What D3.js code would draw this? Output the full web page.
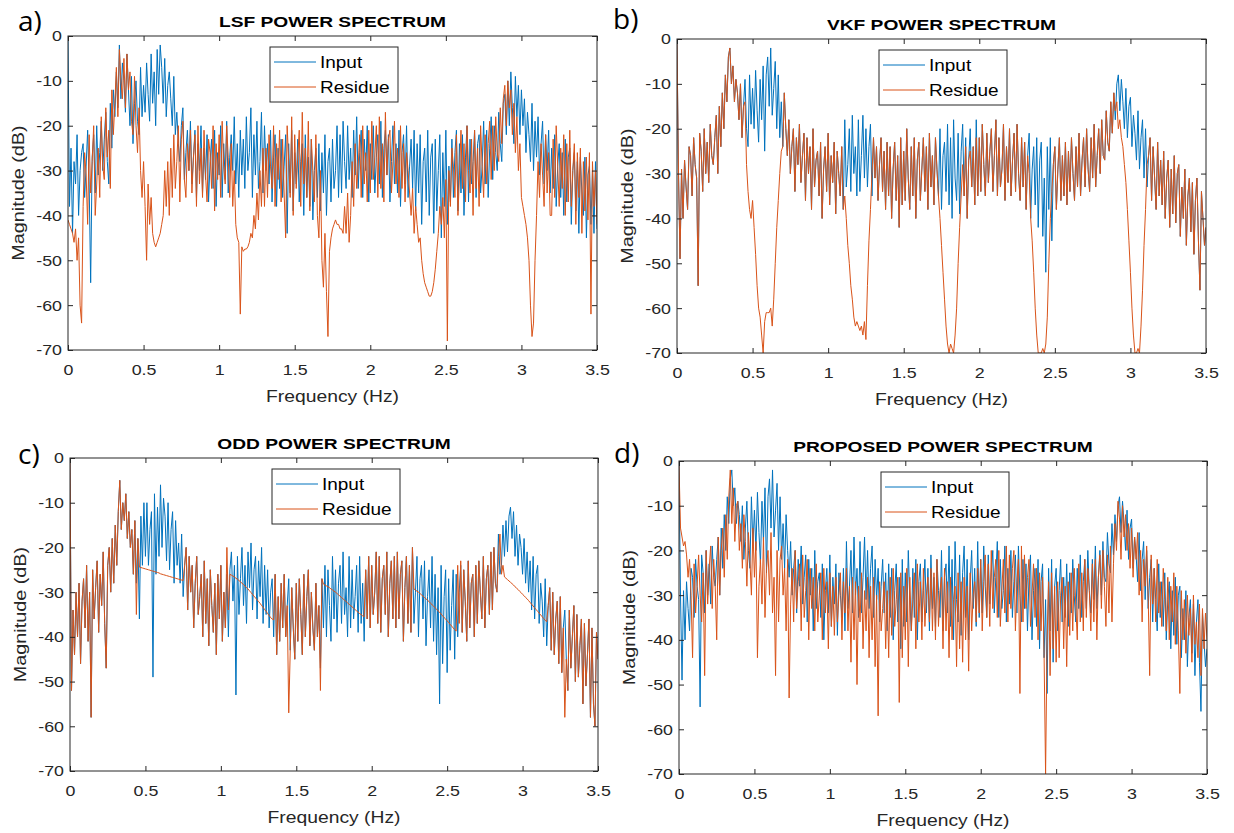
<!DOCTYPE html>
<html>
<head>
<meta charset="utf-8">
<script src="https://cdn.jsdelivr.net/npm/d3@7"></script>
<style>
  body { margin: 0; background: #fff; }
  svg { display: block; }
</style>
</head>
<body>
<svg width="1234" height="833"></svg>
<script>
// frequency grid: 0 .. 3.5 Hz every 0.01 Hz (351 points), one row below = 0.1 Hz
const freq = d3.range(351).map(i => i / 100);

const xTicks = [0, 0.5, 1, 1.5, 2, 2.5, 3, 3.5];
const yTicks = [-70, -60, -50, -40, -30, -20, -10, 0];

// a) LSF
const inputA = [
  -1,-38,-25,-44,-28,-33,-22,-40,-30,-26,
  -24,-36,-29,-21,-33,-55,-27,-22,-35,-20,
  -31,-26,-19,-30,-23,-17,-28,-33,-15,-25,
  -12,-18,-8,-16,-2,-14,-6,-10,-17,-4,
  -12,-20,-9,-24,-15,-10,-19,-22,-7,-18,
  -11,-17,-6,-13,-19,-4,-15,-8,-20,-3,
  -13,-2,-7,-15,-5,-18,-11,-8,-14,-20,
  -9,-22,-17,-24,-28,-20,-16,-32,-26,-21,
  -30,-19,-33,-27,-21,-36,-24,-30,-20,-35,
  -25,-32,-22,-37,-28,-23,-34,-21,-38,-26,
  -31,-20,-36,-24,-32,-19,-35,-27,-22,-30,
  -18,-33,-24,-36,-21,-31,-23,-34,-18,-30,
  -26,-16,-36,-22,-31,-19,-34,-28,-17,-35,
  -20,-30,-24,-33,-21,-37,-27,-22,-38,-25,
  -34,-23,-36,-29,-22,-44,-24,-35,-21,-39,
  -26,-33,-23,-37,-28,-24,-40,-22,-36,-27,
  -38,-23,-41,-30,-25,-36,-24,-39,-26,-35,
  -22,-40,-28,-25,-37,-23,-34,-30,-20,-36,
  -22,-35,-19,-28,-34,-20,-32,-25,-36,-21,
  -31,-18,-34,-26,-21,-36,-23,-30,-20,-37,
  -24,-32,-20,-35,-27,-22,-33,-19,-36,-25,
  -21,-31,-22,-37,-28,-20,-33,-24,-35,-21,
  -38,-26,-22,-33,-20,-36,-29,-23,-34,-21,
  -39,-24,-35,-22,-42,-28,-25,-37,-21,-40,
  -27,-24,-44,-23,-39,-30,-22,-45,-26,-38,
  -21,-42,-29,-37,-23,-36,-26,-21,-39,-24,
  -35,-22,-40,-27,-20,-37,-23,-33,-28,-21,
  -36,-24,-22,-35,-29,-19,-33,-21,-36,-25,
  -18,-32,-20,-26,-30,-17,-24,-28,-15,-13,
  -22,-10,-20,-8,-16,-24,-9,-18,-11,-22,
  -12,-20,-14,-26,-17,-22,-28,-15,-30,-19,
  -27,-18,-31,-24,-19,-33,-22,-30,-21,-35,
  -25,-34,-22,-38,-29,-24,-36,-26,-40,-23,
  -37,-27,-25,-42,-30,-26,-39,-28,-44,-27,
  -35,-40,-27,-45,-31,-29,-42,-30,-44,-28,
  -43
];
const residueA = [
  -41,-42,-43,-44,-46,-43,-50,-45,-60,-64,
  -38,-26,-31,-42,-22,-35,-28,-20,-40,-33,
  -25,-36,-18,-29,-32,-16,-27,-21,-34,-12,
  -22,-15,-7,-18,-3,-10,-14,-5,-16,-4,
  -12,-8,-19,-22,-9,-20,-26,-16,-30,-36,
  -28,-38,-50,-33,-42,-36,-44,-46,-47,-46,
  -45,-44,-42,-40,-30,-38,-28,-40,-25,-36,
  -22,-34,-28,-20,-37,-23,-19,-32,-36,-24,
  -30,-21,-35,-27,-22,-38,-20,-33,-25,-36,
  -21,-31,-37,-23,-26,-34,-20,-39,-24,-32,
  -22,-36,-19,-29,-33,-20,-27,-36,-24,-38,
  -30,-42,-45,-46,-62,-47,-48,-47.5,-47.5,-47,
  -46,-44,-45,-40,-43,-35,-41,-30,-38,-25,
  -38,-25,-36,-22,-29,-34,-20,-38,-24,-32,
  -21,-37,-23,-35,-45,-20,-28,-36,-18,-40,
  -22,-34,-27,-21,-38,-17,-33,-25,-36,-19,
  -39,-23,-30,-37,-22,-40,-45,-30,-50,-56,
  -44,-57,-67,-48,-45,-43,-42,-41,-42,-42,
  -43,-43,-44,-38,-44,-35,-46,-40,-28,-38,
  -24,-34,-29,-22,-36,-20,-33,-26,-37,-21,
  -35,-19,-32,-27,-20,-36,-18,-34,-24,-37,
  -17,-31,-23,-21,-35,-28,-19,-33,-25,-36,
  -20,-34,-24,-37,-26,-30,-35,-40,-34,-44,
  -38,-42,-46,-45,-50,-53,-55,-56,-57,-58,
  -58,-57,-55,-52,-48,-44,-38,-42,-36,-45,
  -32,-68,-30,-38,-25,-29,-36,-22,-40,-31,
  -21,-34,-24,-37,-20,-30,-35,-23,-40,-21,
  -34,-25,-38,-20,-29,-36,-22,-33,-24,-19,
  -32,-20,-30,-18,-26,-28,-16,-24,-14,-11,
  -20,-10,-16,-12,-22,-15,-26,-18,-30,-24,
  -36,-38,-40,-42,-45,-50,-60,-67,-64,-50,
  -40,-28,-36,-24,-31,-38,-22,-35,-26,-40,
  -40,-23,-36,-20,-29,-38,-25,-34,-22,-40,
  -24,-37,-21,-38,-30,-24,-42,-26,-36,-25,
  -44,-28,-39,-27,-41,-26,-62,-28,-38,-30,
  -42
];

// b) VKF and d) proposed share the same input spectrum
const inputB = [
  -1,-30,-49,-29,-40,-27,-33,-38,-24,-26,
  -35,-22,-28,-31,-55,-21,-25,-34,-20,-30,
  -23,-32,-19,-26,-28,-22,-17,-30,-15,-24,
  -12,-20,-8,-14,-4,-2,-10,-6,-14,-9,
  -12,-18,-10,-22,-15,-9,-20,-24,-8,-19,
  -11,-20,-7,-16,-23,-9,-18,-6,-25,-8,
  -4,-15,-2,-17,-11,-5,-20,-8,-22,-14,
  -24,-12,-20,-26,-18,-30,-24,-20,-34,-22,
  -28,-19,-32,-26,-21,-36,-22,-30,-24,-38,
  -20,-33,-27,-25,-35,-23,-40,-29,-24,-34,
  -21,-37,-26,-32,-23,-39,-25,-30,-35,-24,
  -38,-18,-33,-28,-20,-34,-17,-30,-24,-35,
  -18,-34,-26,-17,-31,-20,-33,-24,-19,-35,
  -22,-31,-24,-36,-28,-22,-34,-25,-38,-23,
  -35,-24,-40,-29,-23,-36,-26,-42,-22,-37,
  -25,-36,-20,-31,-38,-24,-35,-22,-40,-27,
  -23,-36,-29,-22,-34,-24,-38,-21,-33,-26,
  -37,-22,-29,-35,-20,-38,-26,-23,-34,-19,
  -37,-22,-40,-18,-31,-36,-21,-39,-25,-19,
  -35,-22,-40,-27,-20,-33,-24,-37,-18,-35,
  -22,-34,-19,-28,-35,-21,-32,-25,-20,-34,
  -26,-18,-35,-22,-33,-29,-19,-36,-24,-32,
  -20,-35,-27,-21,-34,-19,-30,-36,-22,-33,
  -23,-38,-26,-21,-40,-29,-24,-37,-22,-42,
  -27,-23,-44,-31,-52,-24,-38,-22,-45,-28,
  -24,-38,-29,-22,-36,-26,-35,-23,-37,-25,
  -34,-22,-30,-36,-24,-33,-21,-35,-27,-22,
  -33,-20,-29,-34,-22,-31,-19,-33,-26,-20,
  -30,-18,-26,-27,-16,-23,-25,-14,-21,-12,
  -18,-10,-8,-16,-9,-14,-20,-11,-22,-15,
  -13,-24,-17,-21,-27,-16,-29,-22,-18,-31,
  -20,-33,-26,-22,-36,-24,-31,-38,-23,-35,
  -27,-37,-25,-40,-31,-27,-42,-29,-39,-26,
  -41,-30,-28,-44,-33,-40,-29,-46,-35,-31,
  -43,-32,-48,-36,-31,-45,-56,-34,-40,-46,
  -42
];
const residueB = [
  -1,-30,-49,-29,-40,-27,-33,-38,-24,-26,
  -35,-22,-28,-31,-55,-21,-25,-34,-20,-30,
  -23,-32,-19,-26,-28,-22,-17,-30,-15,-24,
  -12,-20,-8,-14,-4,-2,-10,-6,-14,-9,
  -12,-18,-10,-22,-15,-14,-28,-34,-38,-40,
  -36,-42,-48,-55,-60,-62,-66,-70,-63,-61,
  -61,-61,-60,-64,-58,-50,-42,-36,-30,-25,
  -24,-12,-20,-26,-18,-30,-24,-20,-34,-22,
  -28,-19,-32,-26,-21,-36,-22,-30,-24,-38,
  -20,-33,-27,-25,-35,-23,-40,-29,-24,-34,
  -21,-37,-26,-32,-23,-39,-25,-30,-35,-24,
  -38,-35,-40,-46,-50,-55,-58,-62,-64,-63,
  -64,-65,-64,-66,-63,-67,-55,-45,-38,-30,
  -22,-31,-24,-36,-28,-22,-34,-25,-38,-23,
  -35,-24,-40,-29,-23,-36,-26,-42,-22,-37,
  -25,-36,-20,-31,-38,-24,-35,-22,-40,-27,
  -23,-36,-29,-22,-34,-24,-38,-21,-33,-26,
  -37,-22,-29,-35,-40,-46,-52,-58,-64,-68,
  -70,-68,-69,-70,-66,-60,-50,-42,-35,-28,
  -35,-24,-40,-27,-25,-33,-24,-37,-22,-35,
  -22,-34,-19,-28,-35,-21,-32,-25,-20,-34,
  -26,-18,-35,-22,-33,-29,-19,-36,-24,-32,
  -20,-35,-27,-21,-34,-19,-30,-36,-22,-33,
  -23,-38,-26,-30,-40,-45,-52,-60,-66,-70,
  -70,-70,-69,-70,-68,-62,-50,-40,-34,-28,
  -24,-38,-29,-22,-36,-26,-35,-23,-37,-25,
  -34,-22,-30,-36,-24,-33,-21,-35,-27,-22,
  -33,-20,-29,-34,-22,-31,-19,-33,-26,-20,
  -30,-18,-26,-27,-16,-23,-25,-14,-21,-12,
  -16,-14,-20,-18,-22,-24,-28,-32,-38,-45,
  -52,-60,-66,-70,-70,-69,-70,-64,-56,-46,
  -38,-28,-26,-22,-36,-24,-31,-38,-23,-35,
  -27,-37,-25,-40,-31,-27,-42,-29,-39,-26,
  -41,-30,-28,-44,-33,-40,-29,-46,-35,-31,
  -43,-32,-48,-36,-31,-45,-56,-34,-40,-46,
  -42
];

// c) ODD
const inputC = [
  -1,-52,-34,-44,-30,-40,-28,-46,-32,-27,
  -38,-24,-41,-30,-58,-25,-36,-29,-23,-39,
  -26,-33,-21,-37,-47,-24,-20,-30,-18,-28,
  -15,-24,-12,-5,-16,-10,-14,-8,-18,-12,
  -20,-16,-26,-14,-28,-18,-36,-13,-24,-10,
  -22,-10,-24,-16,-12,-49,-8,-26,-11,-22,
  -6,-20,-9,-13,-23,-10,-25,-16,-12,-28,
  -14,-24,-19,-28,-17,-31,-24,-20,-34,-22,
  -30,-24,-38,-28,-22,-35,-31,-26,-40,-23,
  -37,-27,-42,-25,-33,-39,-28,-44,-26,-36,
  -24,-41,-30,-38,-26,-40,-25,-21,-32,-24,
  -53,-22,-35,-27,-20,-33,-24,-37,-21,-29,
  -19,-34,-25,-22,-36,-23,-31,-20,-37,-24,
  -35,-25,-38,-30,-27,-40,-26,-44,-31,-41,
  -28,-38,-26,-40,-33,-27,-43,-29,-38,-45,
  -28,-41,-27,-35,-44,-26,-40,-31,-25,-42,
  -30,-38,-43,-28,-40,-33,-47,-27,-38,-24,
  -40,-25,-33,-41,-22,-36,-25,-39,-28,-24,
  -37,-21,-35,-29,-40,-22,-38,-25,-36,-31,
  -24,-39,-22,-37,-28,-41,-25,-36,-22,-38,
  -24,-35,-30,-21,-37,-22,-39,-27,-24,-35,
  -21,-40,-28,-23,-36,-22,-38,-21,-36,-26,
  -23,-41,-29,-22,-37,-24,-39,-20,-37,-30,
  -22,-40,-27,-24,-36,-23,-42,-31,-25,-38,
  -22,-41,-26,-44,-29,-55,-24,-46,-31,-25,
  -48,-27,-43,-33,-25,-45,-26,-40,-30,-24,
  -39,-25,-32,-41,-23,-38,-28,-26,-40,-24,
  -37,-23,-30,-36,-22,-38,-27,-24,-35,-21,
  -34,-20,-28,-30,-17,-26,-24,-15,-22,-14,
  -21,-13,-11,-18,-12,-22,-15,-24,-17,-20,
  -26,-18,-28,-21,-30,-23,-34,-22,-36,-26,
  -24,-37,-28,-32,-40,-27,-42,-33,-29,-43,
  -30,-44,-36,-32,-46,-31,-48,-38,-34,-45,
  -52,-34,-47,-40,-33,-50,-35,-49,-42,-36,
  -55,-37,-51,-44,-36,-58,-38,-55,-60,-39,
  -45
];
const residueC = [
  -1,-52,-34,-44,-30,-40,-28,-46,-32,-27,
  -38,-24,-41,-30,-58,-25,-36,-29,-23,-39,
  -26,-33,-21,-37,-47,-24,-20,-30,-18,-28,
  -15,-24,-12,-5,-16,-10,-14,-8,-18,-12,
  -20,-16,-26,-14,-35,-18,-24.4,-24.5,-24.6,-24.7,
  -24.8,-24.9,-25.0,-25.1,-25.2,-25.3,-25.4,-25.5,-25.6,-25.7,
  -25.9,-26.0,-26.1,-26.2,-26.3,-26.4,-26.5,-26.6,-26.7,-26.8,
  -26.9,-27.0,-27.1,-27.2,-27.3,-27.4,-24,-20,-34,-22,
  -30,-24,-38,-28,-22,-35,-31,-26,-40,-23,
  -37,-27,-42,-25,-33,-39,-28,-44,-26,-36,
  -24,-41,-30,-38,-20,-34,-26.0,-26.2,-26.4,-26.6,
  -26.9,-27.1,-27.4,-27.7,-28.0,-28.3,-28.6,-29.0,-29.3,-29.7,
  -30.1,-30.5,-30.9,-31.3,-31.7,-32.1,-32.5,-33.0,-33.4,-33.9,
  -34.3,-34.8,-35.2,-35.7,-36.0,-36.2,-26,-44,-31,-41,
  -28,-38,-26,-40,-33,-57,-43,-29,-38,-45,
  -28,-41,-27,-35,-44,-26,-40,-31,-25,-42,
  -30,-38,-43,-28,-40,-33,-52,-27,-28.2,-28.4,
  -28.6,-28.8,-29.0,-29.3,-29.5,-29.8,-30.0,-30.3,-30.6,-30.9,
  -31.2,-31.5,-31.8,-32.1,-32.4,-32.7,-33.0,-33.3,-33.6,-33.9,
  -34.2,-34.5,-34.8,-35.0,-35.3,-35.5,-25,-36,-22,-38,
  -24,-35,-30,-21,-37,-22,-39,-27,-24,-35,
  -21,-40,-28,-23,-36,-22,-38,-21,-36,-26,
  -23,-41,-29,-22,-37,-24,-39,-20,-29.3,-29.5,
  -29.8,-30.0,-30.3,-30.6,-30.9,-31.2,-31.5,-31.8,-32.1,-32.5,
  -32.8,-33.1,-33.5,-33.8,-34.2,-34.5,-34.9,-35.3,-35.7,-36.0,
  -36.4,-36.8,-37.2,-37.6,-38.0,-38.4,-38.7,-24,-37,-23,
  -39,-25,-32,-41,-23,-38,-28,-26,-40,-24,
  -37,-23,-30,-36,-22,-38,-27,-24,-35,-21,
  -34,-20,-28,-30,-22,-17,-26,-24,-26.6,-26.9,
  -27.2,-27.5,-27.8,-28.1,-28.4,-28.8,-29.1,-29.4,-29.8,-30.1,
  -30.5,-30.8,-31.2,-31.5,-31.9,-32.3,-32.7,-33.1,-33.5,-33.9,
  -34.3,-34.7,-35.1,-35.5,-35.9,-36.3,-36.6,-33,-29,-43,
  -30,-44,-36,-32,-46,-31,-48,-38,-58,-45,
  -52,-34,-47,-40,-33,-50,-35,-49,-42,-36,
  -55,-37,-51,-44,-36,-58,-38,-55,-60,-39,
  -45
];

// d) proposed
const residueD = [
  -1,-15,-17,-19,-18,-21,-26,-22,-30,-44,
  -23,-34,-28,-21,-30,-36,-25,-48,-20,-32,
  -24,-19,-33,-22,-28,-40,-17,-30,-20,-15,
  -26,-12,-22,-8,-2,-14,-6,-18,-10,-9,
  -20,-14,-24,-12,-18,-28,-16,-22,-30,-15,
  -26,-18,-44,-28,-22,-32,-17,-35,-24,-20,
  -30,-16,-34,-26,-48,-20,-36,-22,-19,-30,
  -24,-38,-22,-53,-32,-24,-36,-20,-33,-27,
  -23,-38,-21,-35,-29,-22,-40,-24,-33,-26,
  -38,-23,-36,-30,-25,-40,-24,-34,-27,-42,
  -25,-37,-28,-39,-26,-36,-30,-25,-40,-27,
  -34,-24,-38,-28,-45,-26,-40,-27,-50,-28,
  -36,-25,-42,-29,-38,-26,-44,-28,-40,-26,
  -46,-30,-57,-27,-38,-33,-27,-42,-29,-44,
  -26,-39,-24,-37,-31,-26,-54,-25,-44,-28,
  -40,-24,-46,-26,-38,-31,-25,-42,-23,-36,
  -27,-40,-24,-37,-30,-26,-36,-24,-38,-25,
  -40,-22,-37,-29,-26,-42,-24,-38,-27,-44,
  -26,-40,-31,-28,-46,-25,-42,-27,-45,-26,
  -40,-28,-47,-25,-38,-30,-27,-36,-24,-34,
  -22,-38,-27,-21,-35,-23,-37,-20,-33,-26,
  -22,-35,-20,-37,-29,-22,-34,-19,-36,-21,
  -33,-24,-20,-38,-27,-22,-52,-19,-36,-21,
  -33,-26,-22,-37,-30,-23,-35,-24,-40,-25,
  -38,-26,-43,-70,-40,-27,-48,-25,-42,-28,
  -45,-27,-44,-30,-26,-42,-28,-46,-27,-39,
  -25,-38,-24,-32,-40,-23,-36,-25,-38,-22,
  -35,-24,-29,-38,-23,-36,-22,-40,-26,-21,
  -33,-20,-28,-37,-21,-34,-19,-36,-23,-14,
  -20,-9,-13,-22,-10,-17,-12,-20,-14,-24,
  -15,-26,-17,-22,-16,-30,-20,-36,-22,-28,
  -19,-30,-48,-21,-32,-24,-36,-22,-34,-27,
  -37,-24,-31,-38,-26,-40,-28,-36,-25,-41,
  -28,-38,-52,-29,-40,-31,-43,-30,-39,-33,
  -45,-30,-41,-36,-44,-32,-48,-33,-42,-34,
  -40
];

const blue = "#0072BD";
const orange = "#D95319";
const ink = "#262626";
const font = "'Liberation Sans', Arial, Helvetica, sans-serif";

const panels = [
  { tag: "a)", title: "LSF POWER SPECTRUM", input: inputA, residue: residueA,
    left: 68, top: 36, w: 529, h: 314, tagX: 18, tagY: 31 },
  { tag: "b)", title: "VKF POWER SPECTRUM", input: inputB, residue: residueB,
    left: 677, top: 39, w: 529, h: 314, tagX: 613, tagY: 29 },
  { tag: "c)", title: "ODD POWER SPECTRUM", input: inputC, residue: residueC,
    left: 70, top: 458, w: 528, h: 313, tagX: 18, tagY: 464 },
  { tag: "d)", title: "PROPOSED POWER SPECTRUM", input: inputB, residue: residueD,
    left: 679, top: 461, w: 528, h: 313, tagX: 614, tagY: 463 }
];

const svg = d3.select("svg");

panels.forEach((p, k) => {
  const g = svg.append("g").attr("transform", `translate(${p.left},${p.top})`);

  const x = d3.scaleLinear().domain([0, 3.5]).range([0, p.w]);
  const y = d3.scaleLinear().domain([-70, 0]).range([p.h, 0]);

  //clip so the notches stop at -70
  g.append("clipPath").attr("id", "clip" + k)
    .append("rect").attr("width", p.w).attr("height", p.h);

  const line = d3.line()
    .x((d, i) => x(freq[i]))
    .y(d => y(d));

  const plot = g.append("g").attr("clip-path", `url(#clip${k})`);
  plot.append("path").datum(p.input)
    .attr("d", line).attr("fill", "none")
    .attr("stroke", blue).attr("stroke-width", 1);
  plot.append("path").datum(p.residue)
    .attr("d", line).attr("fill", "none")
    .attr("stroke", orange).attr("stroke-width", 1);

  //axes, ticks pointing inwards like matlab
  const xb = g.append("g").attr("transform", `translate(0,${p.h})`)
    .call(d3.axisBottom(x).tickValues(xTicks).tickFormat(d => String(d))
      .tickSizeInner(-5).tickSizeOuter(0));
  xb.selectAll(".tick text").attr("y", 0)
    .attr("transform", "translate(0,14) scale(1.15,1)");

  g.append("g")
    .call(d3.axisTop(x).tickValues(xTicks).tickFormat("")
      .tickSizeInner(-5).tickSizeOuter(0));

  const yl = g.append("g")
    .call(d3.axisLeft(y).tickValues(yTicks).tickFormat(d => String(d))
      .tickSizeInner(-5).tickSizeOuter(0));
  yl.selectAll(".tick text").attr("x", 0)
    .attr("transform", "translate(-6,0) scale(1.15,1)");

  g.append("g").attr("transform", `translate(${p.w},0)`)
    .call(d3.axisRight(y).tickValues(yTicks).tickFormat("")
      .tickSizeInner(-5).tickSizeOuter(0));

  g.selectAll(".domain").remove();
  g.selectAll(".tick line").attr("stroke", ink);
  g.selectAll(".tick text").attr("fill", ink)
    .attr("font-family", font).attr("font-size", "15.5px");

  g.append("rect")
    .attr("width", p.w).attr("height", p.h)
    .attr("fill", "none").attr("stroke", ink).attr("stroke-width", 1);

  //labels
  g.append("text")
    .attr("transform", `translate(${p.w / 2},${p.h + 52}) scale(1.17,1)`)
    .attr("text-anchor", "middle")
    .attr("font-family", font).attr("font-size", "16.5px")
    .attr("fill", ink)
    .text("Frequency (Hz)");

  g.append("text")
    .attr("transform", `translate(-44,${p.h / 2}) rotate(-90) scale(1.2,1)`)
    .attr("text-anchor", "middle")
    .attr("font-family", font).attr("font-size", "16.5px")
    .attr("fill", ink)
    .text("Magnitude (dB)");

  //title
  g.append("text")
    .attr("transform", `translate(${p.w / 2},-9) scale(1.28,1)`)
    .attr("text-anchor", "middle")
    .attr("font-family", font).attr("font-size", "15px")
    .attr("font-weight", "bold")
    .attr("fill", "#000")
    .text(p.title);

  //legend
  const lg = g.append("g").attr("transform", "translate(202,11)");
  lg.append("rect")
    .attr("width", 128).attr("height", 55)
    .attr("fill", "#fff").attr("stroke", ink).attr("stroke-width", 1);
  [["Input", blue], ["Residue", orange]].forEach((item, i) => {
    const ly = 15 + i * 25;
    lg.append("line")
      .attr("x1", 4).attr("x2", 46).attr("y1", ly).attr("y2", ly)
      .attr("stroke", item[1]).attr("stroke-width", 1);
    lg.append("text")
      .attr("transform", `translate(50,${ly + 6}) scale(1.15,1)`)
      .attr("font-family", font).attr("font-size", "16.5px")
      .attr("fill", "#000")
      .text(item[0]);
  });

  //panel letter
  svg.append("text")
    .attr("x", p.tagX).attr("y", p.tagY)
    .attr("font-family", "'Open Sans', 'Noto Sans', sans-serif")
    .attr("font-size", "28px")
    .attr("fill", "#000")
    .text(p.tag);
});
</script>
</body>
</html>
